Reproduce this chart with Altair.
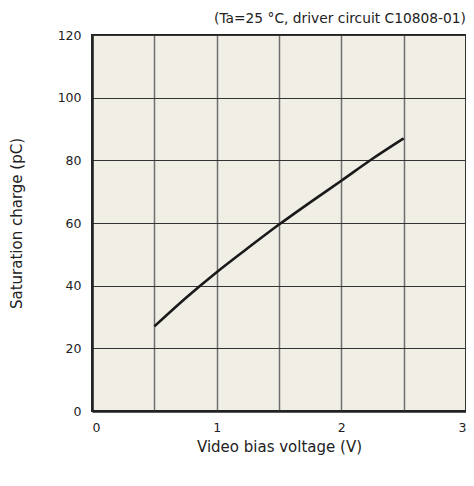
import altair as alt
import pandas as pd

voltage = [0.5, 0.75, 1.0, 1.25, 1.5, 1.75, 2.0, 2.25, 2.5]
charge = [27.0, 36.0, 44.3, 52.0, 59.5, 66.6, 73.5, 80.5, 87.0]
x_ticks = [0, 0.5, 1, 1.5, 2, 2.5, 3]
y_ticks = [0, 20, 40, 60, 80, 100, 120]

df = pd.DataFrame({"v": voltage, "q": charge})

FONT = "DejaVu Sans"

chart = (
    alt.Chart(df)
    .mark_line(color="#1a1a1a", strokeWidth=2.6, interpolate="monotone")
    .encode(
        x=alt.X(
            "v:Q",
            scale=alt.Scale(domain=[0, 3], nice=False),
            axis=alt.Axis(
                values=x_ticks,
                title="Video bias voltage (V)",
                labelExpr="datum.value % 1 == 0 ? format(datum.value, 'd') : ''",
                grid=True,
                gridColor="#6f6f6f",
                gridWidth=1.5,
                ticks=False,
                labelPadding=10,
                titlePadding=6,
                domainColor="#222222",
                domainWidth=2.5,
            ),
        ),
        y=alt.Y(
            "q:Q",
            scale=alt.Scale(domain=[0, 120], nice=False),
            axis=alt.Axis(
                values=y_ticks,
                title="Saturation charge (pC)",
                grid=True,
                gridColor="#333333",
                gridWidth=1.2,
                ticks=False,
                labelPadding=11,
                titlePadding=33,
                domainColor="#222222",
                domainWidth=2.5,
            ),
        ),
    )
    .properties(
        width=374,
        height=376,
        title=alt.TitleParams(
            "(Ta=25 °C, driver circuit C10808-01)",
            anchor="end",
            fontSize=13.8,
            fontWeight="normal",
            font=FONT,
            color="#222222",
            offset=3,
        ),
        autosize=alt.AutoSizeParams(type="none"),
        padding={"left": 84, "top": 27, "right": 0, "bottom": 58},
    )
    .configure(background="white")
    .configure_view(fill="#f1eee6", stroke="#222222", strokeWidth=2)
    .configure_axis(
        labelFont=FONT,
        titleFont=FONT,
        labelFontSize=12.5,
        titleFontSize=15,
        titleFontWeight="normal",
        labelColor="#222222",
        titleColor="#222222",
    )
)

chart.save("out.html", embed_options={"renderer": "svg", "actions": False})
